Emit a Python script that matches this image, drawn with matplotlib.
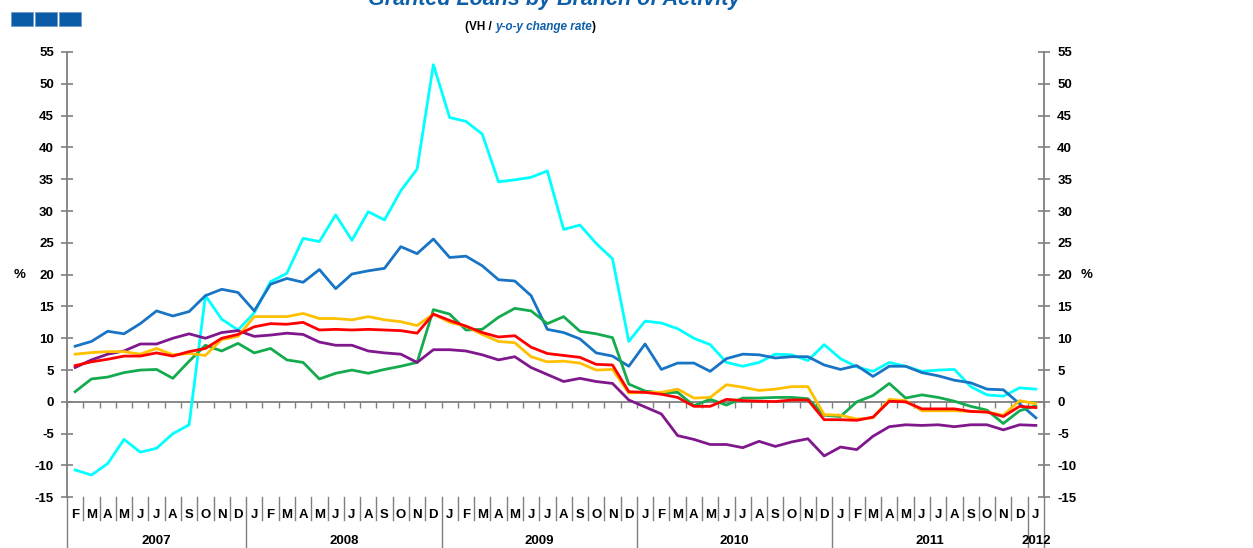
import matplotlib
matplotlib.use("Agg")
import matplotlib.pyplot as plt
from matplotlib.lines import Line2D
from matplotlib.patches import Rectangle
from matplotlib.text import Annotation
import matplotlib.transforms as mtransforms
import numpy as np

# ---------------- data ----------------
month_labels = ["F", "M", "A", "M", "J", "J", "A", "S", "O", "N", "D",
                "J", "F", "M", "A", "M", "J", "J", "A", "S", "O", "N", "D",
                "J", "F", "M", "A", "M", "J", "J", "A", "S", "O", "N", "D",
                "J", "F", "M", "A", "M", "J", "J", "A", "S", "O", "N", "D",
                "J", "F", "M", "A", "M", "J", "J", "A", "S", "O", "N", "D",
                "J"]
year_labels = ["2007", "2008", "2009", "2010", "2011", "2012"]
months_per_year = [11, 12, 12, 12, 12, 1]

series_cyan = [-10.7, -11.5, -9.7, -5.9, -7.9, -7.3, -5.0, -3.6, 16.7, 13.0, 11.3,
               14.0, 18.9, 20.2, 25.7, 25.2, 29.4, 25.4, 29.9, 28.6, 33.2, 36.6, 53.0,
               44.7, 44.1, 42.1, 34.6, 34.9, 35.3, 36.3, 27.1, 27.8, 24.9, 22.5, 9.5,
               12.7, 12.4, 11.5, 10.0, 9.0, 6.2, 5.6, 6.2, 7.5, 7.4, 6.5, 9.0,
               6.8, 5.5, 4.8, 6.2, 5.6, 4.8, 5.0, 5.1, 2.4, 1.1, 0.9, 2.2,
               2.0]
series_blue = [8.75, 9.5, 11.1, 10.7, 12.3, 14.3, 13.5, 14.2, 16.7, 17.7, 17.2,
               14.3, 18.5, 19.4, 18.8, 20.8, 17.8, 20.1, 20.6, 21.0, 24.4, 23.3, 25.6,
               22.7, 22.9, 21.4, 19.2, 19.0, 16.7, 11.4, 10.9, 9.9, 7.7, 7.2, 5.6,
               9.1, 5.1, 6.1, 6.1, 4.8, 6.8, 7.5, 7.4, 6.9, 7.1, 7.1, 5.8,
               5.1, 5.7, 4.0, 5.6, 5.6, 4.6, 4.1, 3.4, 3.0, 2.0, 1.9, -0.3,
               -2.5]
series_yellow = [7.5, 7.75, 7.9, 7.9, 7.5, 8.4, 7.4, 7.6, 7.3, 9.8, 10.3,
                 13.4, 13.4, 13.4, 13.9, 13.1, 13.1, 12.9, 13.4, 12.9, 12.6, 12.0, 13.8,
                 12.5, 11.9, 10.6, 9.5, 9.3, 7.1, 6.3, 6.4, 6.1, 5.0, 5.1, 1.4,
                 1.5, 1.5, 2.0, 0.6, 0.7, 2.7, 2.3, 1.8, 2.0, 2.4, 2.4, -2.0,
                 -2.1, -2.7, -2.5, 0.4, 0.2, -1.4, -1.4, -1.4, -1.5, -1.6, -2.1, 0.2,
                 -0.3]
series_red = [5.7, 6.3, 6.7, 7.2, 7.2, 7.7, 7.2, 7.9, 8.4, 10.0, 10.6,
              11.8, 12.3, 12.2, 12.5, 11.3, 11.4, 11.3, 11.4, 11.3, 11.2, 10.8, 13.8,
              12.8, 11.9, 10.9, 10.2, 10.4, 8.6, 7.6, 7.3, 7.0, 5.9, 5.8, 1.6,
              1.5, 1.2, 0.7, -0.7, -0.7, 0.4, 0.2, 0.1, 0.05, 0.3, 0.3, -2.8,
              -2.8, -2.9, -2.4, 0.1, 0.0, -1.1, -1.1, -1.1, -1.5, -1.6, -2.3, -0.7,
              -0.9]
series_purple = [5.4, 6.6, 7.5, 8.0, 9.1, 9.1, 10.0, 10.7, 10.0, 10.9, 11.2,
                 10.3, 10.5, 10.8, 10.6, 9.4, 8.9, 8.9, 8.0, 7.7, 7.5, 6.2, 8.2,
                 8.2, 8.0, 7.4, 6.6, 7.1, 5.4, 4.3, 3.2, 3.7, 3.2, 2.9, 0.3,
                 -0.8, -1.9, -5.3, -5.9, -6.7, -6.7, -7.2, -6.2, -7.0, -6.3, -5.8, -8.5,
                 -7.1, -7.5, -5.4, -3.9, -3.6, -3.7, -3.6, -3.9, -3.6, -3.6, -4.4, -3.6,
                 -3.7]
series_green = [1.6, 3.6, 3.9, 4.6, 5.0, 5.1, 3.7, 6.4, 8.9, 8.0, 9.2,
                7.7, 8.4, 6.6, 6.2, 3.6, 4.5, 5.0, 4.5, 5.1, 5.6, 6.2, 14.5,
                13.8, 11.3, 11.4, 13.3, 14.7, 14.3, 12.3, 13.4, 11.1, 10.7, 10.1, 2.8,
                1.7, 1.4, 1.5, -0.6, 0.4, -0.5, 0.6, 0.6, 0.7, 0.7, 0.5, -2.1,
                -2.3, 0.0, 1.0, 2.9, 0.6, 1.1, 0.7, 0.1, -0.7, -1.3, -3.4, -1.4,
                -0.6]

y_ticks = list(range(-15, 60, 5))

# ---------------- figure ----------------
plt.rcParams['font.family'] = ['Liberation Sans', 'DejaVu Sans']
plt.rcParams['axes.unicode_minus'] = False

W, H = 1253, 548
fig = plt.figure(figsize=(W / 100, H / 100), dpi=100)

ax_left, ax_right, ax_top, ax_bot = 67, 1044, 52, 497.3
ax_w = ax_right - ax_left
ax_h = ax_bot - ax_top
ax = fig.add_axes([ax_left / W, 1 - ax_bot / H, ax_w / W, ax_h / H])

n = len(month_labels)
x = np.arange(n) + 0.5
lw = 2.0
ax.plot(x, series_cyan, color="#00FFFF", lw=lw, zorder=3)
ax.plot(x, series_blue, color="#1874C4", lw=lw, zorder=4)
ax.plot(x, series_green, color="#14AA4E", lw=lw, zorder=5)
ax.plot(x, series_purple, color="#80178C", lw=lw, zorder=5)
ax.plot(x, series_yellow, color="#FFC000", lw=lw, zorder=6)
ax.plot(x, series_red, color="#FF0000", lw=lw, zorder=7)

ax.set_xlim(0, n)
ax.set_ylim(-15, 55)
ax.set_facecolor("none")

axis_col = "#7F7F7F"
ax.spines["top"].set_visible(False)
for s in ["left", "right", "bottom"]:
    ax.spines[s].set_color(axis_col)
    ax.spines[s].set_linewidth(1.3)
ax.spines["bottom"].set_position(("data", 0))

# x ticks on zero line at month boundaries
ax.set_xticks(np.arange(0, n + 1))
ax.tick_params(axis="x", direction="out", length=4, width=1, color=axis_col, labelbottom=False)

ax.set_yticks(y_ticks)
ax.tick_params(axis="y", direction="inout", length=9, width=1.2, color=axis_col,
               labelsize=9.5, pad=5, right=True, labelright=True, labelleft=True)
for tl in ax.yaxis.get_major_ticks():
    tl.label1.set_fontweight("bold")
    tl.label2.set_fontweight("bold")

# % labels
blend_y = mtransforms.blended_transform_factory(ax.transAxes, ax.transData)
ax.text((20 - ax_left) / ax_w, 20, "%", transform=blend_y,
        ha="center", va="center", fontsize=9.5, fontweight="bold")
ax.text((1087 - ax_left) / ax_w, 20, "%", transform=blend_y,
        ha="center", va="center", fontsize=9.5, fontweight="bold")

# category labels below the plot
trans = mtransforms.blended_transform_factory(ax.transData, ax.transAxes)
month_sep = -23 / ax_h
year_sep = -(H - ax_bot) / ax_h
month_y = -(515 - ax_bot) / ax_h
year_y = -(541 - ax_bot) / ax_h

for i, lab in enumerate(month_labels):
    ax.text(i + 0.5, month_y, lab, transform=trans, ha="center", va="center",
            fontsize=9.5, fontweight="bold", clip_on=False)

year_bounds = np.concatenate([[0], np.cumsum(months_per_year)])
for b in range(0, n + 1):
    is_year = b in year_bounds
    y0 = year_sep if is_year else month_sep
    ax.add_line(Line2D([b, b], [0, y0], transform=trans, color=axis_col, lw=1.0,
                       clip_on=False, zorder=1))
for k, yl in enumerate(year_labels):
    mid = (year_bounds[k] + year_bounds[k + 1]) / 2
    ax.text(mid, year_y, yl, transform=trans, ha="center", va="center",
            fontsize=9.5, fontweight="bold", clip_on=False)

# title (cut at top) and subtitle
fig.text(554 / W, 1 - 5.5 / H, "Granted Loans by Branch of Activity", ha="center", va="baseline",
         fontsize=15.5, fontweight="bold", fontstyle="italic", color="#0F5FA8")

t1 = fig.text(465 / W, 1 - 30 / H, "(VH / ", ha="left", va="baseline",
              fontsize=8.5, fontweight="bold", color="black")
t2 = fig.add_artist(Annotation("y-o-y change rate", xy=(1, 0), xycoords=t1,
                               ha="left", va="bottom", fontsize=8.5, fontweight="bold",
                               fontstyle="italic", color="#0F5FA8"))
t3 = fig.add_artist(Annotation(")", xy=(1, 0), xycoords=t2,
                               ha="left", va="bottom", fontsize=8.5, fontweight="bold",
                               color="black"))

# logo squares
for k in range(3):
    fig.add_artist(Rectangle(((11 + 24 * k) / W, 1 - 26 / H), 22 / W, 14 / H,
                             transform=fig.transFigure, facecolor="#0A5CA6",
                             edgecolor="#6F9CCB", lw=0.6))

fig.savefig("out.png", dpi=100)
